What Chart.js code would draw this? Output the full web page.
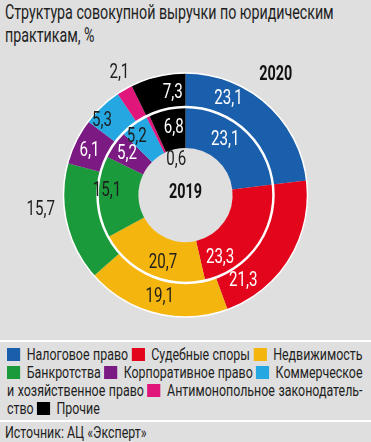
<!DOCTYPE html>
<html lang="ru">
<head>
<meta charset="utf-8">
<script src="https://cdn.jsdelivr.net/npm/chart.js@4.4.1/dist/chart.umd.min.js"></script>
<style>
  html, body { margin: 0; padding: 0; }
  body {
    width: 371px; height: 442px; background: #dfdfdf; position: relative; overflow: hidden;
    font-family: Roboto, 'Liberation Sans', sans-serif;
    color: #1e1e1e;
  }
  .narrow { position: absolute; transform: scaleX(0.73); transform-origin: 0 0; }
  #title { left: 5px; top: 1px; width: 480px; font-size: 19.5px; line-height: 23px; }
  #chartBox { position: absolute; left: 0; top: 50px; width: 371px; height: 290px; }
  .sep { position: absolute; left: 0; width: 371px; height: 2px; background: #fff; }
  #legend { left: 7px; top: 345px; width: 487px; font-size: 17px; line-height: 18px; }
  #legend .line { white-space: nowrap; text-align: justify; text-align-last: justify; }
  #legend .line:last-child { text-align-last: left; }
  #legend .sw { display: inline-block; width: 18px; height: 13px; margin-right: 9px; vertical-align: -1px; }
  #source { left: 5px; top: 423px; font-size: 17px; line-height: 18px; width: 300px; }
</style>
</head>
<body>
<div id="title" class="narrow">Структура совокупной выручки по юридическим<br>практикам, %</div>
<div id="chartBox"><canvas id="ringChart"></canvas></div>
<div class="sep" style="top:340px"></div>
<div id="legend" class="narrow"></div>
<div class="sep" style="top:420px"></div>
<div id="source" class="narrow">Источник: АЦ «Эксперт»</div>
<script>
// "|" marks where the legend text wraps to a new line
const categories = [
    'Налоговое право',
    'Судебные споры',
    'Недвижимость|',
    'Банкротства',
    'Корпоративное право',
    'Коммерческое|и хозяйственное право',
    'Антимонопольное законодатель-|ство',
    'Прочие'
];
const years = ['2020', '2019'];
const values2020 = [23.1, 21.3, 19.1, 15.7, 6.1, 5.3, 2.1, 7.3];
const values2019 = [23.1, 23.3, 20.7, 15.1, 5.2, 5.2, 0.6, 6.8];

const colors = ['#1a5fac', '#e3051b', '#f5b50f', '#1b9a3b', '#7c1a83', '#25a7e2', '#e0167b', '#000000'];
const labelColors = ['#fff', '#fff', '#1e1e1e', '#1e1e1e', '#fff', '#1e1e1e', '#1e1e1e', '#fff'];

// where each value label sits: [fraction along the arc, fraction across the ring]
const outerLabelPos = [[0.29, 0.5], [0.82, 0.45], [0.5, 0.5], [0.63, 1.69], [0.44, 0.52], [0.23, 0.69], [0.72, 1.5], [0.73, 0.45]];
const innerLabelPos = [[0.43, 0.51], [0.81, 0.6], [0.42, 0.6], [0.58, 0.77], [0.5, 0.6], [0.3, 0.71], [5.5, -0.27], [0.59, 0.51]];
const outsideLabels = { 0: [3, 6], 1: [6] };

const fontFamily = "Roboto, 'Liberation Sans', sans-serif";
const squeeze = 0.72;

// legend built from the same arrays
const legend = document.getElementById('legend');
let line = document.createElement('div');
line.className = 'line';
legend.appendChild(line);
categories.forEach((name, i) => {
    const sw = document.createElement('span');
    sw.className = 'sw';
    sw.style.background = colors[i];
    line.appendChild(sw);
    name.split('|').forEach((part, k) => {
        if (k > 0) {
            line = document.createElement('div');
            line.className = 'line';
            legend.appendChild(line);
        }
        if (part) line.appendChild(document.createTextNode(part + ' '));
    });
});
if (!line.childNodes.length) legend.removeChild(line);

function fmt(v) {
    return v.toFixed(1).replace('.', ',');
}

function narrowText(ctx, text, x, y) {
    ctx.save();
    ctx.translate(x, y);
    ctx.scale(squeeze, 1);
    ctx.fillText(text, 0, 0);
    ctx.restore();
}

const ringLabels = {
    id: 'ringLabels',
    afterDatasetsDraw(chart) {
        const ctx = chart.ctx;
        const outerMeta = chart.getDatasetMeta(0);
        const innerMeta = chart.getDatasetMeta(1);
        const first = outerMeta.data[0];
        const cx = first.x, cy = first.y;

        ctx.save();
        // white ring edges
        ctx.strokeStyle = '#fff';
        ctx.lineWidth = 1.5;
        ctx.beginPath();
        ctx.arc(cx, cy, first.outerRadius, 0, Math.PI * 2);
        ctx.stroke();
        ctx.lineWidth = 2.5;
        ctx.beginPath();
        ctx.arc(cx, cy, first.innerRadius, 0, Math.PI * 2);
        ctx.stroke();

        ctx.textAlign = 'center';
        ctx.textBaseline = 'middle';
        ctx.font = '21px ' + fontFamily;

        [[outerMeta, values2020, outerLabelPos], [innerMeta, values2019, innerLabelPos]].forEach(([meta, vals, pos], d) => {
            meta.data.forEach((arc, i) => {
                const [f, g] = pos[i];
                const a = arc.startAngle + f * (arc.endAngle - arc.startAngle);
                const r = arc.innerRadius + g * (arc.outerRadius - arc.innerRadius);
                const outside = outsideLabels[d].includes(i);
                ctx.fillStyle = outside ? '#1e1e1e' : labelColors[i];
                narrowText(ctx, fmt(vals[i]), cx + r * Math.cos(a), cy + r * Math.sin(a));
            });
        });

        // year captions
        ctx.fillStyle = '#111';
        ctx.font = 'bold 20px ' + fontFamily;
        narrowText(ctx, years[1], cx, cy - 2);
        const R = first.outerRadius;
        narrowText(ctx, years[0], cx + R * 0.74, cy - R * 0.985);
        ctx.restore();
    }
};

new Chart(document.getElementById('ringChart'), {
    type: 'doughnut',
    data: {
        labels: categories.map(c => c.replace('-|', '').replace('|', ' ').trim()),
        datasets: [
            { label: years[0], data: values2020, backgroundColor: colors, borderWidth: 0, weight: 30 },
            { label: years[1], data: values2019, backgroundColor: colors, borderWidth: 0, weight: 36 }
        ]
    },
    options: {
        responsive: true,
        maintainAspectRatio: false,
        animation: false,
        events: [],
        radius: 122,
        cutout: 56,
        plugins: {
            legend: { display: false },
            tooltip: { enabled: false }
        }
    },
    plugins: [ringLabels]
});
</script>
</body>
</html>
